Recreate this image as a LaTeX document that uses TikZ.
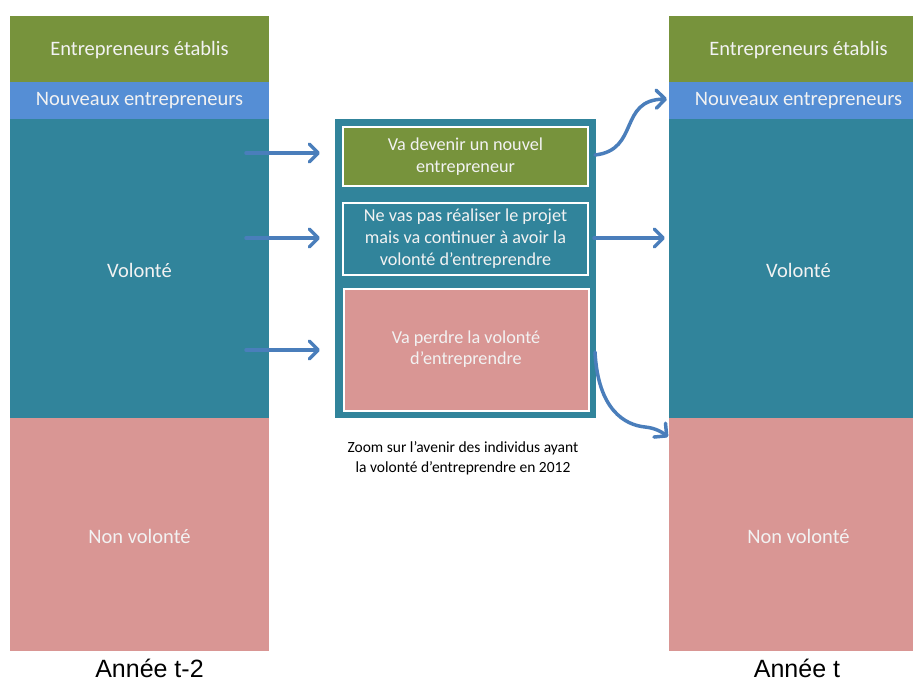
\documentclass[tikz,border=0pt]{standalone}
\usepackage{fontspec}
\setmainfont{Carlito}
\newfontfamily\arialfont{Liberation Sans}
\usetikzlibrary{arrows.meta}
\definecolor{cgreen}{HTML}{77933C}
\definecolor{cblue}{HTML}{558ED5}
\definecolor{cteal}{HTML}{31849B}
\definecolor{cpink}{HTML}{D99694}
\definecolor{carrow}{HTML}{4A7EBB}
\definecolor{ctext}{HTML}{F2F2F2}
\tikzset{
  lbl/.style={text=ctext, font=\fontsize{20.5}{24}\selectfont, align=center},
  innerbox/.style={draw=white, line width=2pt, inner sep=0pt, text=ctext,
    font=\fontsize{18.2}{22}\selectfont, align=center},
  flow/.style={draw=carrow, line width=3.5pt, line cap=round, line join=round,
    -{Straight Barb[length=9pt,width=18pt,line cap=round,line join=round]}},
  yearlbl/.style={font=\arialfont\fontsize{25}{27}\selectfont, text=black,
    inner sep=0pt, anchor=base},
}
\begin{document}
\begin{tikzpicture}[x=1pt,y=-1pt]
\useasboundingbox (0,0) rectangle (913,684);
% left column
\fill[cgreen] (10,16) rectangle (269,82);
\fill[cblue] (10,82) rectangle (269,119);
\fill[cteal] (10,119) rectangle (269,418);
\fill[cpink] (10,418) rectangle (269,651);
\node[lbl] (lE) at (139.5,50) {Entrepreneurs établis};
\node[lbl] (lN) at (139.5,101) {Nouveaux entrepreneurs};
\node[lbl] (lV) at (139.5,270) {Volonté};
\node[lbl] (lNV) at (139.5,536) {Non volonté};
% right column
\fill[cgreen] (669,16) rectangle (913,82);
\fill[cblue] (669,82) rectangle (913,119);
\fill[cteal] (669,119) rectangle (913,418);
\fill[cpink] (669,418) rectangle (913,651);
\node[lbl] (rE) at (798.5,50) {Entrepreneurs établis};
\node[lbl] (rN) at (798.5,101) {Nouveaux entrepreneurs};
\node[lbl] (rV) at (798.5,270) {Volonté};
\node[lbl] (rNV) at (798.5,536) {Non volonté};
% middle
\fill[cteal] (335,119) rectangle (596,418);
\node[innerbox, fill=cgreen, minimum width=245pt, minimum height=59pt] (b1) at (465.5,156.5)
  {Va devenir un nouvel\\entrepreneur};
\node[innerbox, fill=cteal, minimum width=245pt, minimum height=72pt] (b2) at (465.5,239)
  {Ne vas pas réaliser le projet\\mais va continuer à avoir la\\volonté d’entreprendre};
\node[innerbox, fill=cpink, minimum width=245pt, minimum height=122pt] (b3) at (466,350)
  {\raisebox{8pt}{\begin{tabular}{@{}c@{}}Va perdre la volonté\\[-1pt]d’entreprendre\end{tabular}}};
\node[font=\fontsize{15.5}{20}\selectfont, align=center, text=black] (cap) at (463,458)
  {Zoom sur l’avenir des individus ayant\\la volonté d’entreprendre en 2012};
\node[yearlbl] (y1) at (149.5,677) {Année t-2};
\node[yearlbl] (y2) at (797,677) {Année t};
% arrow anchors
\coordinate (a1s) at (246,153);
\coordinate (a1e) at (320,153);
\coordinate (a2s) at (246,238);
\coordinate (a2e) at (320,238);
\coordinate (a3s) at (246,350);
\coordinate (a3e) at (320,350);
\coordinate (r1s) at (595,155);
\coordinate (r1e) at (667,99);
\coordinate (r2s) at (594,238);
\coordinate (r2e) at (665,238);
\coordinate (r3s) at (595,352);
\coordinate (r3e) at (668,437);
\draw[flow] (a1s) -- (a1e);
\draw[flow] (a2s) -- (a2e);
\draw[flow] (a3s) -- (a3e);
\draw[flow] (r2s) -- (r2e);
\draw[flow] (r1s) .. controls (640,150) and (618,100) .. (r1e);
\draw[flow] (r3s) .. controls (598,410) and (625,425) .. (645,427) .. controls (655,428) and (662,432) .. (r3e);
\end{tikzpicture}
\end{document}
